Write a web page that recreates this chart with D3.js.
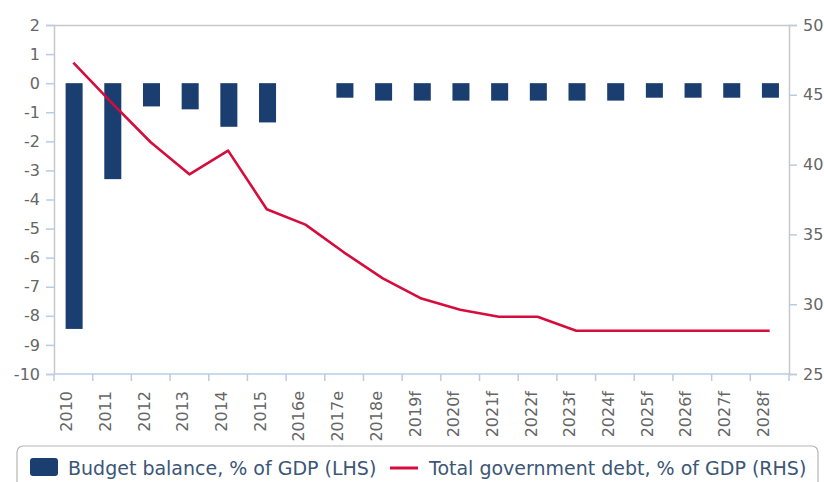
<!DOCTYPE html>
<html>
<head>
<meta charset="utf-8">
<script src="https://cdn.jsdelivr.net/npm/d3@7"></script>
<style>
  html, body { margin: 0; padding: 0; background: #fff; }
  svg { display: block; font-family: "DejaVu Sans", sans-serif; }
</style>
</head>
<body>
<svg id="chart" width="824" height="482"></svg>
<script>
// Years on the category axis (e = estimate, f = forecast)
const categories = ["2010", "2011", "2012", "2013", "2014", "2015", "2016e", "2017e", "2018e",
  "2019f", "2020f", "2021f", "2022f", "2023f", "2024f", "2025f", "2026f", "2027f", "2028f"];
// Budget balance, % of GDP (left axis)
const budgetBalance = [-8.45, -3.3, -0.8, -0.9, -1.5, -1.35, 0, -0.5, -0.6,
  -0.6, -0.6, -0.6, -0.6, -0.6, -0.6, -0.5, -0.5, -0.5, -0.5];
// Total government debt, % of GDP (right axis)
const govDebt = [47.3, 44.4, 41.6, 39.3, 41.0, 36.8, 35.7, 33.7, 31.85,
  30.4, 29.6, 29.1, 29.1, 28.1, 28.1, 28.1, 28.1, 28.1, 28.1];
const leftTicks = [2, 1, 0, -1, -2, -3, -4, -5, -6, -7, -8, -9, -10];
const rightTicks = [50, 45, 40, 35, 30, 25];
const legendLabels = ["Budget balance, % of GDP (LHS)", "Total government debt, % of GDP (RHS)"];

const W = 824, H = 482;
const margin = { top: 25, right: 35, bottom: 108, left: 54 };
const x0 = margin.left, x1 = W - margin.right;
const y0 = margin.top, y1 = H - margin.bottom;

const barColor = "#1a3e6f";
const lineColor = "#d60c3d";
const axisGrey = "#c8c8c8";
const tickBlue = "#b8cce4";
const labelGrey = "#666666";

const svg = d3.select("#chart");

const x = d3.scaleBand().domain(categories).range([x0, x1]).padding(0);
const yL = d3.scaleLinear().domain([-10, 2]).range([y1, y0]);
const yR = d3.scaleLinear().domain([25, 50]).range([y1, y0]);

// Plot frame: top edge, left and right value axes
svg.append("line").attr("x1", x0).attr("x2", x1).attr("y1", y0 + 0.5).attr("y2", y0 + 0.5)
  .attr("stroke", axisGrey).attr("stroke-width", 1.5);

// Left axis
const gL = svg.append("g").attr("transform", `translate(${x0},0)`)
  .call(d3.axisLeft(yL).tickValues(leftTicks).tickSize(8).tickPadding(6).tickFormat(d3.format("d")));
gL.select(".domain").attr("stroke", axisGrey).attr("stroke-width", 1.5);
gL.selectAll(".tick line").attr("stroke", tickBlue).attr("stroke-width", 1.5);
gL.selectAll(".tick text").attr("fill", labelGrey).attr("font-size", 16)
  .attr("font-family", "DejaVu Sans").text(d => d < 0 ? "-" + Math.abs(d) : d);

// Right axis
const gR = svg.append("g").attr("transform", `translate(${x1},0)`)
  .call(d3.axisRight(yR).tickValues(rightTicks).tickSize(8).tickPadding(6).tickFormat(d3.format("d")));
gR.select(".domain").attr("stroke", axisGrey).attr("stroke-width", 1.5);
gR.selectAll(".tick line").attr("stroke", tickBlue).attr("stroke-width", 1.5);
gR.selectAll(".tick text").attr("fill", labelGrey).attr("font-size", 16).attr("font-family", "DejaVu Sans");

// Bars
const barW = x.bandwidth() * 0.44;
svg.append("g").selectAll("rect").data(categories).join("rect")
  .attr("x", (d) => x(d) + x.bandwidth() * 0.3)
  .attr("width", barW)
  .attr("y", (d, i) => Math.min(yL(0), yL(budgetBalance[i])))
  .attr("height", (d, i) => Math.abs(yL(budgetBalance[i]) - yL(0)))
  .attr("fill", barColor);

// Category axis along the bottom, ticks at band boundaries
const bottom = svg.append("g");
bottom.append("line").attr("x1", x0).attr("x2", x1).attr("y1", y1).attr("y2", y1)
  .attr("stroke", tickBlue).attr("stroke-width", 1.5);
const boundaries = categories.map(c => x(c)).concat([x1]);
bottom.selectAll("line.tk").data(boundaries).join("line").attr("class", "tk")
  .attr("x1", d => d).attr("x2", d => d).attr("y1", y1).attr("y2", y1 + 7)
  .attr("stroke", tickBlue).attr("stroke-width", 1.5);
bottom.selectAll("text").data(categories).join("text")
  .attr("transform", d => `translate(${x(d) + x.bandwidth() / 2 - 1},${y1 + 17}) rotate(-90)`)
  .attr("text-anchor", "end")
  .attr("font-size", 16).attr("fill", labelGrey)
  .text(d => d);

// Debt line
const line = d3.line()
  .x((d, i) => x(categories[i]) + x.bandwidth() / 2)
  .y(d => yR(d));
svg.append("path").datum(govDebt).attr("d", line)
  .attr("fill", "none").attr("stroke", lineColor).attr("stroke-width", 2.6)
  .attr("stroke-linejoin", "round");

// Legend
const leg = svg.append("g");
leg.append("rect").attr("x", 17).attr("y", 446).attr("width", 801).attr("height", 50)
  .attr("rx", 6).attr("fill", "#fff").attr("stroke", "#b5b5b5").attr("stroke-width", 1.2);
leg.append("rect").attr("x", 30).attr("y", 458).attr("width", 28).attr("height", 18)
  .attr("rx", 3).attr("fill", barColor);
leg.append("text").attr("x", 68).attr("y", 475).attr("font-size", 19).attr("fill", "#3c5677")
  .text(legendLabels[0]);
leg.append("line").attr("x1", 390).attr("x2", 418).attr("y1", 468).attr("y2", 468)
  .attr("stroke", lineColor).attr("stroke-width", 3);
leg.append("text").attr("x", 429).attr("y", 475).attr("font-size", 19).attr("fill", "#3c5677")
  .text(legendLabels[1]);
</script>
</body>
</html>
